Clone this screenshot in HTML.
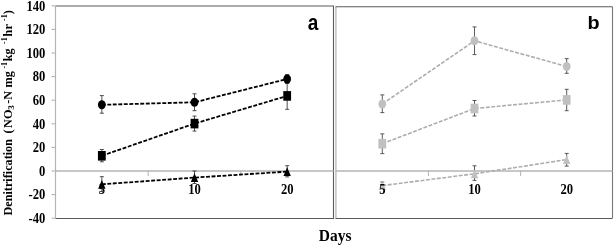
<!DOCTYPE html>
<html><head><meta charset="utf-8"><style>
html,body{margin:0;padding:0;background:#fff;}
body{width:614px;height:245px;overflow:hidden;}
svg{display:block;filter:grayscale(1);}
</style></head><body>
<svg width="614" height="245" viewBox="0 0 614 245">
<rect width="614" height="245" fill="#fff"/>
<polyline points="55.5,6.0 333.5,6.0 333.5,218.5 55.5,218.5" fill="none" stroke="#5a5a5a" stroke-width="1.1"/>
<line x1="55.5" y1="6.0" x2="55.5" y2="218.5" stroke="#b4b4b4" stroke-width="1.2"/>
<line x1="51.5" y1="218.20" x2="55.5" y2="218.20" stroke="#b4b4b4" stroke-width="1.1"/>
<text transform="translate(45.3,223.00) scale(0.9,1)" text-anchor="end" style="font-family:'Liberation Serif',serif;font-weight:bold;font-size:14px">-40</text>
<line x1="51.5" y1="194.60" x2="55.5" y2="194.60" stroke="#b4b4b4" stroke-width="1.1"/>
<text transform="translate(45.3,199.40) scale(0.9,1)" text-anchor="end" style="font-family:'Liberation Serif',serif;font-weight:bold;font-size:14px">-20</text>
<line x1="51.5" y1="171.00" x2="55.5" y2="171.00" stroke="#b4b4b4" stroke-width="1.1"/>
<text transform="translate(45.3,175.80) scale(0.9,1)" text-anchor="end" style="font-family:'Liberation Serif',serif;font-weight:bold;font-size:14px">0</text>
<line x1="51.5" y1="147.40" x2="55.5" y2="147.40" stroke="#b4b4b4" stroke-width="1.1"/>
<text transform="translate(45.3,152.20) scale(0.9,1)" text-anchor="end" style="font-family:'Liberation Serif',serif;font-weight:bold;font-size:14px">20</text>
<line x1="51.5" y1="123.80" x2="55.5" y2="123.80" stroke="#b4b4b4" stroke-width="1.1"/>
<text transform="translate(45.3,128.60) scale(0.9,1)" text-anchor="end" style="font-family:'Liberation Serif',serif;font-weight:bold;font-size:14px">40</text>
<line x1="51.5" y1="100.20" x2="55.5" y2="100.20" stroke="#b4b4b4" stroke-width="1.1"/>
<text transform="translate(45.3,105.00) scale(0.9,1)" text-anchor="end" style="font-family:'Liberation Serif',serif;font-weight:bold;font-size:14px">60</text>
<line x1="51.5" y1="76.60" x2="55.5" y2="76.60" stroke="#b4b4b4" stroke-width="1.1"/>
<text transform="translate(45.3,81.40) scale(0.9,1)" text-anchor="end" style="font-family:'Liberation Serif',serif;font-weight:bold;font-size:14px">80</text>
<line x1="51.5" y1="53.00" x2="55.5" y2="53.00" stroke="#b4b4b4" stroke-width="1.1"/>
<text transform="translate(45.3,57.80) scale(0.9,1)" text-anchor="end" style="font-family:'Liberation Serif',serif;font-weight:bold;font-size:14px">100</text>
<line x1="51.5" y1="29.40" x2="55.5" y2="29.40" stroke="#b4b4b4" stroke-width="1.1"/>
<text transform="translate(45.3,34.20) scale(0.9,1)" text-anchor="end" style="font-family:'Liberation Serif',serif;font-weight:bold;font-size:14px">120</text>
<line x1="51.5" y1="5.80" x2="55.5" y2="5.80" stroke="#b4b4b4" stroke-width="1.1"/>
<text transform="translate(45.3,10.60) scale(0.9,1)" text-anchor="end" style="font-family:'Liberation Serif',serif;font-weight:bold;font-size:14px">140</text>
<line x1="55.5" y1="171.00" x2="333.5" y2="171.00" stroke="#b4b4b4" stroke-width="1.3"/>
<line x1="148.17" y1="171.00" x2="148.17" y2="176.00" stroke="#b4b4b4" stroke-width="1"/>
<line x1="240.83" y1="171.00" x2="240.83" y2="176.00" stroke="#b4b4b4" stroke-width="1"/>
<line x1="335.9" y1="6.8" x2="335.9" y2="218.5" stroke="#c4c4c4" stroke-width="1.6"/>
<line x1="335.5" y1="6.8" x2="612.5" y2="6.8" stroke="#5a5a5a" stroke-width="1.1"/>
<line x1="335.5" y1="218.5" x2="612.5" y2="218.5" stroke="#5a5a5a" stroke-width="1.1"/>
<line x1="612.5" y1="6.8" x2="612.5" y2="218.5" stroke="#777" stroke-width="1.1"/>
<line x1="335.5" y1="171.00" x2="612.5" y2="171.00" stroke="#b4b4b4" stroke-width="1.3"/>
<line x1="428.40" y1="171.00" x2="428.40" y2="176.00" stroke="#b4b4b4" stroke-width="1"/>
<line x1="520.60" y1="171.00" x2="520.60" y2="176.00" stroke="#b4b4b4" stroke-width="1"/>
<text transform="translate(101.83,194.0) scale(0.9,1)" text-anchor="middle" style="font-family:'Liberation Serif',serif;font-weight:bold;font-size:14px">5</text>
<text transform="translate(194.50,194.0) scale(0.9,1)" text-anchor="middle" style="font-family:'Liberation Serif',serif;font-weight:bold;font-size:14px">10</text>
<text transform="translate(287.17,194.0) scale(0.9,1)" text-anchor="middle" style="font-family:'Liberation Serif',serif;font-weight:bold;font-size:14px">20</text>
<polyline points="101.83,104.80 194.50,102.30 287.17,79.00" fill="none" stroke="#000" stroke-width="1.8" stroke-dasharray="3.9 1.6"/>
<polyline points="101.83,155.80 194.50,123.60 287.17,95.90" fill="none" stroke="#000" stroke-width="1.8" stroke-dasharray="3.9 1.6"/>
<polyline points="101.83,184.30 194.50,177.60 287.17,171.60" fill="none" stroke="#000" stroke-width="1.8" stroke-dasharray="3.9 1.6"/>
<line x1="101.83" y1="95.60" x2="101.83" y2="113.20" stroke="#3c3c3c" stroke-width="0.9"/>
<line x1="99.83" y1="95.60" x2="103.83" y2="95.60" stroke="#3c3c3c" stroke-width="0.9"/>
<line x1="99.83" y1="113.20" x2="103.83" y2="113.20" stroke="#3c3c3c" stroke-width="0.9"/>
<line x1="194.50" y1="93.80" x2="194.50" y2="110.70" stroke="#3c3c3c" stroke-width="0.9"/>
<line x1="192.50" y1="93.80" x2="196.50" y2="93.80" stroke="#3c3c3c" stroke-width="0.9"/>
<line x1="192.50" y1="110.70" x2="196.50" y2="110.70" stroke="#3c3c3c" stroke-width="0.9"/>
<line x1="287.17" y1="74.50" x2="287.17" y2="83.50" stroke="#3c3c3c" stroke-width="0.9"/>
<line x1="285.17" y1="74.50" x2="289.17" y2="74.50" stroke="#3c3c3c" stroke-width="0.9"/>
<line x1="285.17" y1="83.50" x2="289.17" y2="83.50" stroke="#3c3c3c" stroke-width="0.9"/>
<line x1="101.83" y1="149.50" x2="101.83" y2="161.80" stroke="#3c3c3c" stroke-width="0.9"/>
<line x1="99.83" y1="149.50" x2="103.83" y2="149.50" stroke="#3c3c3c" stroke-width="0.9"/>
<line x1="99.83" y1="161.80" x2="103.83" y2="161.80" stroke="#3c3c3c" stroke-width="0.9"/>
<line x1="194.50" y1="116.10" x2="194.50" y2="131.10" stroke="#3c3c3c" stroke-width="0.9"/>
<line x1="192.50" y1="116.10" x2="196.50" y2="116.10" stroke="#3c3c3c" stroke-width="0.9"/>
<line x1="192.50" y1="131.10" x2="196.50" y2="131.10" stroke="#3c3c3c" stroke-width="0.9"/>
<line x1="287.17" y1="83.00" x2="287.17" y2="109.30" stroke="#3c3c3c" stroke-width="0.9"/>
<line x1="285.17" y1="83.00" x2="289.17" y2="83.00" stroke="#3c3c3c" stroke-width="0.9"/>
<line x1="285.17" y1="109.30" x2="289.17" y2="109.30" stroke="#3c3c3c" stroke-width="0.9"/>
<line x1="101.83" y1="176.70" x2="101.83" y2="191.50" stroke="#3c3c3c" stroke-width="0.9"/>
<line x1="99.83" y1="176.70" x2="103.83" y2="176.70" stroke="#3c3c3c" stroke-width="0.9"/>
<line x1="99.83" y1="191.50" x2="103.83" y2="191.50" stroke="#3c3c3c" stroke-width="0.9"/>
<line x1="194.50" y1="171.00" x2="194.50" y2="183.50" stroke="#3c3c3c" stroke-width="0.9"/>
<line x1="192.50" y1="171.00" x2="196.50" y2="171.00" stroke="#3c3c3c" stroke-width="0.9"/>
<line x1="192.50" y1="183.50" x2="196.50" y2="183.50" stroke="#3c3c3c" stroke-width="0.9"/>
<line x1="287.17" y1="165.70" x2="287.17" y2="176.90" stroke="#3c3c3c" stroke-width="0.9"/>
<line x1="285.17" y1="165.70" x2="289.17" y2="165.70" stroke="#3c3c3c" stroke-width="0.9"/>
<line x1="285.17" y1="176.90" x2="289.17" y2="176.90" stroke="#3c3c3c" stroke-width="0.9"/>
<ellipse cx="101.83" cy="104.80" rx="3.9" ry="4.5" fill="#000"/>
<ellipse cx="194.50" cy="102.30" rx="3.9" ry="4.5" fill="#000"/>
<ellipse cx="287.17" cy="79.00" rx="3.9" ry="4.5" fill="#000"/>
<rect x="97.93" y="151.00" width="7.8" height="9.6" fill="#000"/>
<rect x="190.60" y="118.80" width="7.8" height="9.6" fill="#000"/>
<rect x="283.27" y="91.10" width="7.8" height="9.6" fill="#000"/>
<polygon points="101.83,179.90 105.53,188.70 98.13,188.70" fill="#000"/>
<polygon points="194.50,173.20 198.20,182.00 190.80,182.00" fill="#000"/>
<polygon points="287.17,167.20 290.87,176.00 283.47,176.00" fill="#000"/>
<polyline points="382.30,104.00 474.50,40.80 566.70,66.50" fill="none" stroke="#adadad" stroke-width="1.6" stroke-dasharray="3.9 1.6"/>
<polyline points="382.30,143.70 474.50,108.50 566.70,99.90" fill="none" stroke="#adadad" stroke-width="1.6" stroke-dasharray="3.9 1.6"/>
<polyline points="382.30,185.60 474.50,173.80 566.70,159.60" fill="none" stroke="#adadad" stroke-width="1.6" stroke-dasharray="3.9 1.6"/>
<line x1="382.30" y1="94.90" x2="382.30" y2="112.60" stroke="#4a4a4a" stroke-width="0.9"/>
<line x1="380.30" y1="94.90" x2="384.30" y2="94.90" stroke="#4a4a4a" stroke-width="0.9"/>
<line x1="380.30" y1="112.60" x2="384.30" y2="112.60" stroke="#4a4a4a" stroke-width="0.9"/>
<line x1="474.50" y1="26.90" x2="474.50" y2="54.60" stroke="#4a4a4a" stroke-width="0.9"/>
<line x1="472.50" y1="26.90" x2="476.50" y2="26.90" stroke="#4a4a4a" stroke-width="0.9"/>
<line x1="472.50" y1="54.60" x2="476.50" y2="54.60" stroke="#4a4a4a" stroke-width="0.9"/>
<line x1="566.70" y1="58.60" x2="566.70" y2="73.30" stroke="#4a4a4a" stroke-width="0.9"/>
<line x1="564.70" y1="58.60" x2="568.70" y2="58.60" stroke="#4a4a4a" stroke-width="0.9"/>
<line x1="564.70" y1="73.30" x2="568.70" y2="73.30" stroke="#4a4a4a" stroke-width="0.9"/>
<line x1="382.30" y1="133.90" x2="382.30" y2="153.60" stroke="#4a4a4a" stroke-width="0.9"/>
<line x1="380.30" y1="133.90" x2="384.30" y2="133.90" stroke="#4a4a4a" stroke-width="0.9"/>
<line x1="380.30" y1="153.60" x2="384.30" y2="153.60" stroke="#4a4a4a" stroke-width="0.9"/>
<line x1="474.50" y1="100.50" x2="474.50" y2="116.00" stroke="#4a4a4a" stroke-width="0.9"/>
<line x1="472.50" y1="100.50" x2="476.50" y2="100.50" stroke="#4a4a4a" stroke-width="0.9"/>
<line x1="472.50" y1="116.00" x2="476.50" y2="116.00" stroke="#4a4a4a" stroke-width="0.9"/>
<line x1="566.70" y1="89.30" x2="566.70" y2="110.70" stroke="#4a4a4a" stroke-width="0.9"/>
<line x1="564.70" y1="89.30" x2="568.70" y2="89.30" stroke="#4a4a4a" stroke-width="0.9"/>
<line x1="564.70" y1="110.70" x2="568.70" y2="110.70" stroke="#4a4a4a" stroke-width="0.9"/>
<line x1="382.30" y1="182.00" x2="382.30" y2="189.00" stroke="#4a4a4a" stroke-width="0.9"/>
<line x1="380.30" y1="182.00" x2="384.30" y2="182.00" stroke="#4a4a4a" stroke-width="0.9"/>
<line x1="380.30" y1="189.00" x2="384.30" y2="189.00" stroke="#4a4a4a" stroke-width="0.9"/>
<line x1="474.50" y1="165.80" x2="474.50" y2="180.40" stroke="#4a4a4a" stroke-width="0.9"/>
<line x1="472.50" y1="165.80" x2="476.50" y2="165.80" stroke="#4a4a4a" stroke-width="0.9"/>
<line x1="472.50" y1="180.40" x2="476.50" y2="180.40" stroke="#4a4a4a" stroke-width="0.9"/>
<line x1="566.70" y1="153.40" x2="566.70" y2="166.10" stroke="#4a4a4a" stroke-width="0.9"/>
<line x1="564.70" y1="153.40" x2="568.70" y2="153.40" stroke="#4a4a4a" stroke-width="0.9"/>
<line x1="564.70" y1="166.10" x2="568.70" y2="166.10" stroke="#4a4a4a" stroke-width="0.9"/>
<ellipse cx="382.30" cy="104.00" rx="3.9" ry="4.5" fill="#c0c0c0"/>
<ellipse cx="474.50" cy="40.80" rx="3.9" ry="4.5" fill="#c0c0c0"/>
<ellipse cx="566.70" cy="66.50" rx="3.9" ry="4.5" fill="#c0c0c0"/>
<rect x="378.40" y="138.90" width="7.8" height="9.6" fill="#c0c0c0"/>
<rect x="470.60" y="103.70" width="7.8" height="9.6" fill="#c0c0c0"/>
<rect x="562.80" y="95.10" width="7.8" height="9.6" fill="#c0c0c0"/>
<polygon points="382.30,181.20 386.00,190.00 378.60,190.00" fill="#c0c0c0"/>
<polygon points="474.50,169.40 478.20,178.20 470.80,178.20" fill="#c0c0c0"/>
<polygon points="566.70,155.20 570.40,164.00 563.00,164.00" fill="#c0c0c0"/>
<text transform="translate(382.30,194.0) scale(0.9,1)" text-anchor="middle" style="font-family:'Liberation Serif',serif;font-weight:bold;font-size:14px">5</text>
<text transform="translate(474.50,194.0) scale(0.9,1)" text-anchor="middle" style="font-family:'Liberation Serif',serif;font-weight:bold;font-size:14px">10</text>
<text transform="translate(566.70,194.0) scale(0.9,1)" text-anchor="middle" style="font-family:'Liberation Serif',serif;font-weight:bold;font-size:14px">20</text>
<text transform="translate(313.0,30.0) scale(1,1.13)" text-anchor="middle" style="font-family:'Liberation Sans',sans-serif;font-weight:bold;font-size:19px">a</text>
<text transform="translate(593.6,29.1) scale(1.04,1.0)" text-anchor="middle" style="font-family:'Liberation Sans',sans-serif;font-weight:bold;font-size:19px">b</text>
<text transform="translate(335.2,240.5) scale(1,1.06)" text-anchor="middle" style="font-family:'Liberation Serif',serif;font-weight:bold;font-size:15.5px">Days</text>
<text transform="translate(11.7,215.5) rotate(-90)" style="font-family:'Liberation Serif',serif;font-weight:bold;font-size:12.2px">Denitrification</text>
<text transform="translate(11.7,133.6) rotate(-90)" style="font-family:'Liberation Serif',serif;font-weight:bold;font-size:12.2px">(</text>
<text transform="translate(11.7,127.9) rotate(-90)" style="font-family:'Liberation Serif',serif;font-weight:bold;font-size:12.2px">NO</text>
<text transform="translate(13.6,109.8) rotate(-90)" style="font-family:'Liberation Serif',serif;font-weight:bold;font-size:9px">3</text>
<text transform="translate(11.7,103.8) rotate(-90)" style="font-family:'Liberation Serif',serif;font-weight:bold;font-size:12.2px">-N</text>
<text transform="translate(11.7,87.4) rotate(-90)" style="font-family:'Liberation Serif',serif;font-weight:bold;font-size:12.2px">mg</text>
<text transform="translate(7.0,68.6) rotate(-90)" style="font-family:'Liberation Serif',serif;font-weight:bold;font-size:8px">-1</text>
<text transform="translate(11.7,61.3) rotate(-90)" style="font-family:'Liberation Serif',serif;font-weight:bold;font-size:12.2px">kg</text>
<text transform="translate(7.0,44.0) rotate(-90)" style="font-family:'Liberation Serif',serif;font-weight:bold;font-size:8px">-1</text>
<text transform="translate(11.7,36.4) rotate(-90)" style="font-family:'Liberation Serif',serif;font-weight:bold;font-size:12.2px">hr</text>
<text transform="translate(7.0,21.0) rotate(-90)" style="font-family:'Liberation Serif',serif;font-weight:bold;font-size:8px">-1</text>
<text transform="translate(11.7,14.3) rotate(-90)" style="font-family:'Liberation Serif',serif;font-weight:bold;font-size:12.2px">)</text>
</svg>
</body></html>
